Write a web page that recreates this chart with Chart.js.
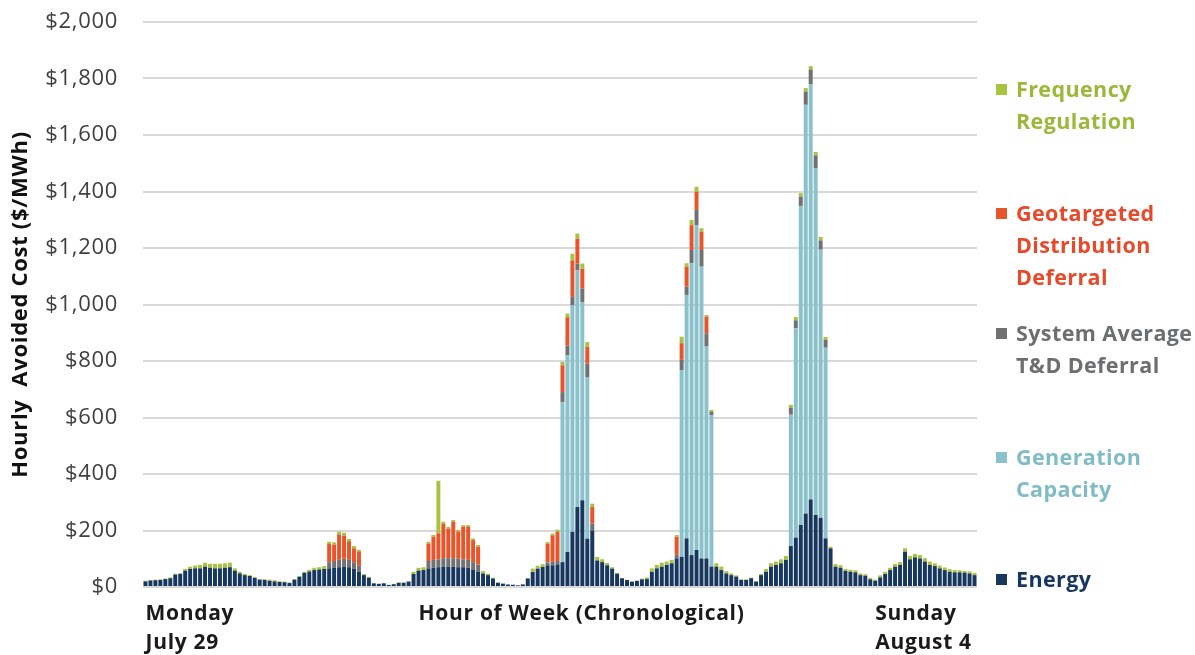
<!DOCTYPE html>
<html>
<head>
<meta charset="utf-8">
<title>Hourly Avoided Cost</title>
<script src="https://cdn.jsdelivr.net/npm/chart.js@4.4.1/dist/chart.umd.min.js"></script>
<style>
  body { margin: 0; background: #fff; font-family: 'Open Sans', sans-serif; }
  #chart-wrap { position: relative; width: 1195px; height: 655px; }
  .legend-item { position: absolute; left: 996px; font-weight: 700; font-size: 21.5px; letter-spacing: 0.4px; line-height: 32px; padding-left: 20px; white-space: nowrap; }
  .legend-swatch { position: absolute; left: 0; top: 11px; width: 11px; height: 11px; }
</style>
</head>
<body>
<div id="chart-wrap">
  <canvas id="avoided-cost-chart"></canvas>
  <div id="legend"></div>
</div>
<script>
// one bar per hour, Monday July 29 00:00 to Sunday August 4 23:00
const hours = Array.from({ length: 168 }, (_, i) => String(i + 1));

const energy = [
  20, 23, 24, 25, 28, 31, 44, 46, 58, 64, 66, 66, 72, 68, 66, 66, 68, 70, 58, 48, 42, 39, 32, 26,
  25, 22, 20, 18, 17, 14, 26, 36, 50, 55, 60, 62, 64, 66, 68, 70, 72, 70, 64, 55, 42, 33, 13, 11,
  13, 7, 10, 15, 15, 19, 46, 58, 60, 66, 68, 70, 72, 72, 72, 70, 70, 68, 62, 55, 48, 42, 30, 15,
  12, 9, 8, 6, 9, 30, 53, 65, 71, 77, 77, 80, 88, 124, 195, 283, 307, 171, 200, 94, 88, 77, 65, 47,
  31, 25, 19, 22, 27, 28, 54, 66, 72, 78, 84, 101, 107, 172, 113, 131, 101, 101, 72, 72, 60, 48, 42, 37,
  25, 25, 31, 19, 42, 54, 72, 78, 84, 96, 145, 175, 220, 260, 310, 255, 245, 172, 137, 72, 68, 57, 54, 52,
  42, 40, 27, 22, 34, 46, 60, 72, 78, 125, 98, 105, 101, 90, 78, 74, 66, 60, 54, 52, 52, 51, 48, 42
];

const generationCapacity = [
  0, 0, 0, 0, 0, 0, 0, 0, 0, 0, 0, 0, 0, 0, 0, 0, 0, 0, 0, 0, 0, 0, 0, 0,
  0, 0, 0, 0, 0, 0, 0, 0, 0, 0, 0, 0, 0, 0, 0, 0, 0, 0, 0, 0, 0, 0, 0, 0,
  0, 0, 0, 0, 0, 0, 0, 0, 0, 0, 0, 0, 0, 0, 0, 0, 0, 0, 0, 0, 0, 0, 0, 0,
  0, 0, 0, 0, 0, 0, 0, 0, 0, 0, 0, 0, 567, 696, 802, 838, 702, 572, 0, 0, 0, 0, 0, 0,
  0, 0, 0, 0, 0, 0, 0, 0, 0, 0, 0, 0, 661, 862, 1033, 1150, 1033, 750, 537, 0, 0, 0, 0, 0,
  0, 0, 0, 0, 0, 0, 0, 0, 0, 0, 465, 741, 1129, 1447, 1469, 1226, 949, 675, 0, 0, 0, 0, 0, 0,
  0, 0, 0, 0, 0, 0, 0, 0, 0, 0, 0, 0, 0, 0, 0, 0, 0, 0, 0, 0, 0, 0, 0, 0
];

const systemTdDeferral = [
  0, 0, 0, 0, 0, 0, 0, 0, 0, 0, 0, 0, 0, 0, 0, 0, 0, 0, 0, 0, 0, 0, 0, 0,
  0, 0, 0, 0, 0, 0, 0, 0, 0, 0, 0, 0, 0, 22, 24, 26, 28, 26, 24, 20, 0, 0, 0, 0,
  0, 0, 0, 0, 0, 0, 0, 0, 0, 26, 28, 28, 30, 30, 30, 30, 28, 28, 26, 24, 0, 0, 0, 0,
  0, 0, 0, 0, 0, 0, 0, 0, 0, 10, 12, 12, 35, 35, 30, 24, 47, 48, 24, 0, 0, 0, 0, 0,
  0, 0, 0, 0, 0, 0, 0, 0, 0, 0, 0, 13, 36, 29, 47, 54, 59, 47, 12, 0, 0, 0, 0, 0,
  0, 0, 0, 0, 0, 0, 0, 0, 0, 0, 25, 28, 33, 47, 53, 47, 33, 28, 0, 0, 0, 0, 0, 0,
  0, 0, 0, 0, 0, 0, 0, 0, 0, 0, 0, 0, 0, 0, 0, 0, 0, 0, 0, 0, 0, 0, 0, 0
];

const geoDistDeferral = [
  0, 0, 0, 0, 0, 0, 0, 0, 0, 0, 0, 0, 0, 0, 0, 0, 0, 0, 0, 0, 0, 0, 0, 0,
  0, 0, 0, 0, 0, 0, 0, 0, 0, 0, 0, 0, 0, 64, 58, 90, 82, 66, 49, 51, 0, 0, 0, 0,
  0, 0, 0, 0, 0, 0, 0, 0, 0, 62, 82, 92, 123, 105, 129, 96, 115, 117, 78, 64, 0, 0, 0, 0,
  0, 0, 0, 0, 0, 0, 0, 0, 0, 66, 94, 103, 95, 100, 129, 88, 71, 59, 59, 0, 0, 0, 0, 0,
  0, 0, 0, 0, 0, 0, 0, 0, 0, 0, 0, 64, 59, 71, 88, 64, 65, 59, 0, 0, 0, 0, 0, 0,
  0, 0, 0, 0, 0, 0, 0, 0, 0, 0, 0, 0, 0, 0, 0, 0, 0, 0, 0, 0, 0, 0, 0, 0,
  0, 0, 0, 0, 0, 0, 0, 0, 0, 0, 0, 0, 0, 0, 0, 0, 0, 0, 0, 0, 0, 0, 0, 0
];

const freqRegulation = [
  2, 2, 2, 2, 2, 3, 3, 3, 6, 8, 10, 12, 14, 14, 16, 16, 16, 16, 8, 6, 4, 3, 3, 2,
  2, 4, 4, 2, 2, 2, 2, 3, 4, 6, 8, 8, 10, 8, 8, 10, 10, 8, 8, 6, 4, 3, 1, 1,
  1, 1, 1, 1, 1, 2, 8, 10, 10, 6, 6, 186, 6, 6, 6, 6, 6, 6, 6, 6, 8, 5, 3, 1,
  0, 0, 0, 0, 1, 2, 12, 10, 10, 6, 6, 8, 12, 13, 24, 18, 18, 17, 12, 12, 10, 8, 5, 3,
  0, 0, 0, 0, 3, 6, 12, 12, 14, 12, 12, 6, 23, 12, 18, 18, 12, 6, 6, 12, 12, 8, 6, 4,
  2, 2, 2, 2, 4, 10, 12, 12, 14, 14, 10, 12, 12, 12, 12, 12, 12, 10, 6, 9, 9, 7, 7, 7,
  6, 5, 5, 4, 7, 8, 8, 10, 10, 12, 12, 12, 12, 12, 12, 10, 10, 9, 9, 8, 7, 6, 7, 8
];

// text under the axis, placed at these hour indexes
const xTickHours = [0, 55, 147];
const xTickLabels = [['Monday', 'July 29'], ['Hour of Week (Chronological)'], ['Sunday', 'August 4']];

const seriesNames = ['Energy', 'Generation Capacity', 'System Average T&D Deferral', 'Geotargeted Distribution Deferral', 'Frequency Regulation'];
const legendLines = [['Energy'], ['Generation', 'Capacity'], ['System Average', 'T&D Deferral'], ['Geotargeted', 'Distribution', 'Deferral'], ['Frequency', 'Regulation']];

const barColors = ['#17375e', '#8bc1ca', '#717174', '#e9552b', '#a9c23f'];
const textColors = ['#17375e', '#7fbcc6', '#6d6e71', '#e64a2a', '#9bb83a'];
const legendTops = [563, 441, 317, 197, 73];

let avoidedCostChart;

// the original lettering runs a bit wider than Open Sans
const wideText = {
    id: 'wideText',
    beforeDraw: chart => { chart.ctx.letterSpacing = '0.7px'; }
};

function buildLegend() {
    const legend = document.getElementById('legend');
    seriesNames.forEach((name, i) => {
        const item = document.createElement('div');
        item.className = 'legend-item';
        item.style.top = legendTops[i] + 'px';
        item.style.color = textColors[i];
        item.innerHTML = legendLines[i].map(l => l.replace('&', '&amp;')).join('<br>');
        const swatch = document.createElement('span');
        swatch.className = 'legend-swatch';
        swatch.style.background = barColors[i];
        item.appendChild(swatch);
        legend.appendChild(item);
    });
}

function initChart() {
    const ctx = document.getElementById('avoided-cost-chart').getContext('2d');
    const values = [energy, generationCapacity, systemTdDeferral, geoDistDeferral, freqRegulation];

    avoidedCostChart = new Chart(ctx, {
        type: 'bar',
        data: {
            labels: hours,
            datasets: seriesNames.map((name, i) => ({
                label: name,
                data: values[i],
                backgroundColor: barColors[i],
                borderWidth: 0,
                barPercentage: 1,
                categoryPercentage: 0.8
            }))
        },
        options: {
            responsive: true,
            maintainAspectRatio: false,
            animation: false,
            layout: { padding: { top: 22, right: 218, bottom: 0, left: 0 } },
            plugins: { legend: { display: false }, tooltip: { enabled: false } },
            scales: {
                x: {
                    stacked: true,
                    grid: { display: false },
                    border: { display: false },
                    ticks: {
                        autoSkip: false,
                        maxRotation: 0,
                        minRotation: 0,
                        align: 'start',
                        padding: 5,
                        color: '#1a1a1a',
                        font: { family: 'Open Sans', size: 21, weight: 'bold', lineHeight: 1.38 },
                        callback: (value, index) => {
                            const k = xTickHours.indexOf(index);
                            return k >= 0 ? xTickLabels[k] : '';
                        }
                    },
                    afterFit: scale => { scale.height = 68; }
                },
                y: {
                    stacked: true,
                    min: 0,
                    max: 2000,
                    grid: { color: '#d9d9d9', lineWidth: 2, drawTicks: true, tickLength: 25, tickColor: 'rgba(0,0,0,0)' },
                    border: { display: false },
                    ticks: {
                        stepSize: 200,
                        padding: 0,
                        color: '#404040',
                        font: { family: 'Open Sans', size: 22 },
                        callback: v => '$' + v.toLocaleString('en-US')
                    },
                    title: {
                        display: true,
                        text: 'Hourly  Avoided Cost ($/MWh)',
                        color: '#111111',
                        padding: { top: 8, bottom: 0 },
                        font: { family: 'Open Sans', size: 22, weight: 'bold' }
                    },
                    afterFit: scale => { scale.width = 143; }
                }
            }
        },
        plugins: [wideText]
    });
}

document.addEventListener('DOMContentLoaded', () => {
    buildLegend();
    initChart();
});
</script>
</body>
</html>
